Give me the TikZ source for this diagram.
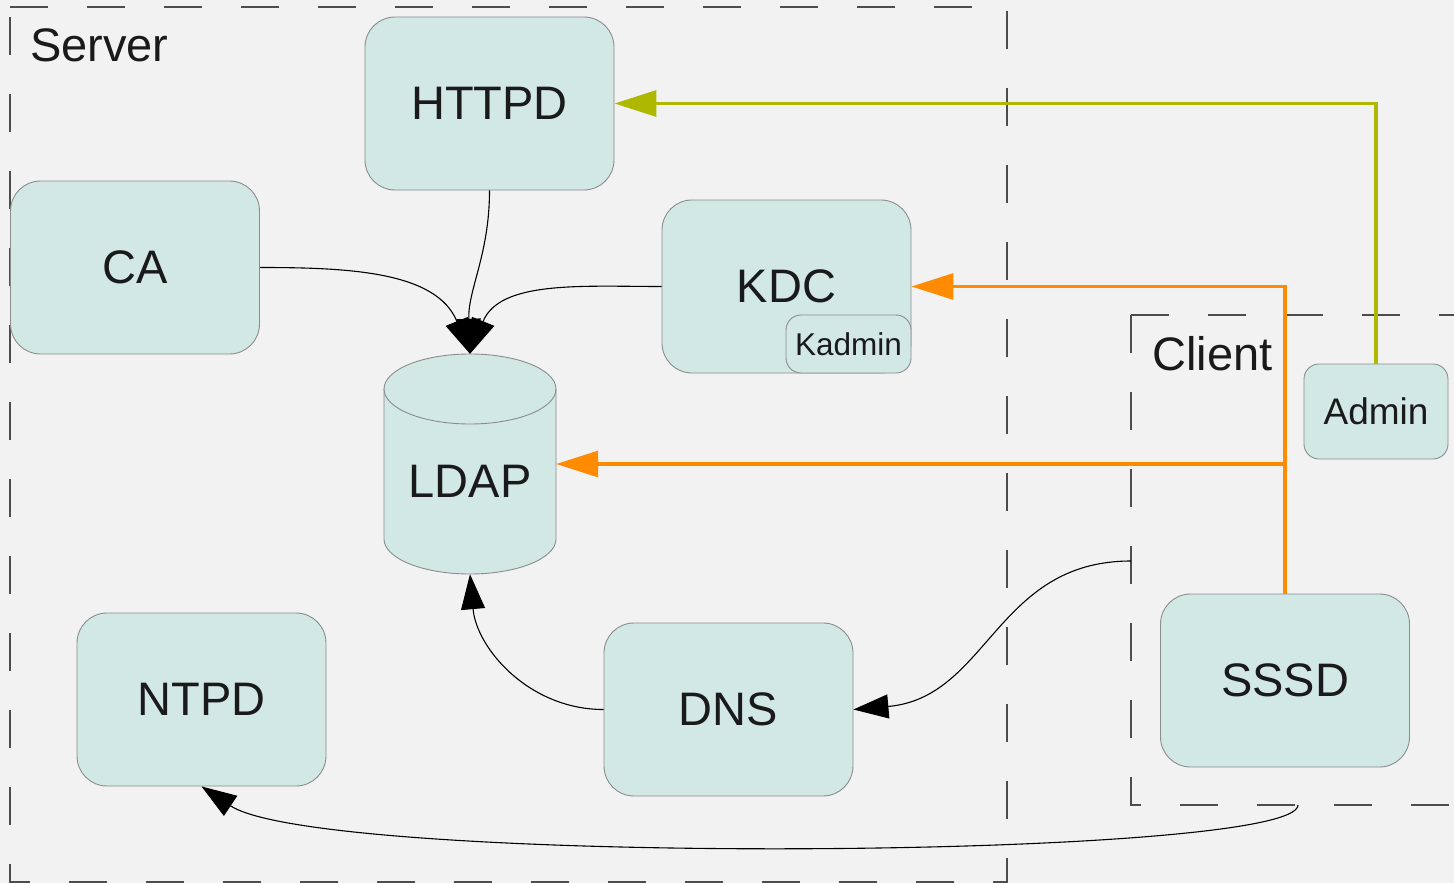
\documentclass[tikz,border=0pt]{standalone}
\usepackage{fontspec}
\setmainfont{Liberation Sans}
\usetikzlibrary{arrows.meta}
\definecolor{paper}{HTML}{F2F2F2}
\definecolor{boxfill}{HTML}{D1E8E5}
\definecolor{boxline}{HTML}{8C8C8C}
\definecolor{frameline}{HTML}{4D4D4D}
\definecolor{ink}{HTML}{1A1A1A}
\definecolor{sssdline}{HTML}{FF8C00}
\definecolor{adminline}{HTML}{AFB800}
\begin{document}
\begin{tikzpicture}[x=1pt,y=1pt,
	svc/.style={draw=boxline,fill=boxfill,line width=0.9pt,rounded corners=30pt,minimum width=249pt,minimum height=173pt,inner sep=0pt,text=ink,font=\fontsize{47}{56}\selectfont},
	frame/.style={draw=frameline,line width=1.5pt,dash pattern=on 38pt off 39pt},
	title/.style={anchor=base west,inner sep=0pt,text=ink,font=\fontsize{47}{56}\selectfont},
	link/.style={line width=1.1pt,-{Triangle[length=35pt,width=24pt]}},
	feed/.style={line width=3.2pt,-{Triangle[length=42pt,width=26pt]}}]
		\useasboundingbox (0,0) rectangle (1454,-883);
		\fill[paper] (0,0) rectangle (1454,-883);
		%=========== frames ===========================
		\draw[frame] (10,-7) -- (1007,-7) -- (1007,-882) -- (10,-882) -- cycle;
		\draw[frame] (1131,-315) -- (1454,-315);
		\draw[frame] (1131,-315) -- (1131,-805) -- (1454,-805);
		\node[title] (srvtitle) at (30,-62) {Server};
		\node[title] (clttitle) at (1152,-370) {Client};
		\coordinate (cltw) at (1131,-561);
		\coordinate (clts) at (1298,-805);
		%=========== server, from top to bottom ===========================
		\node[svc] (httpd) at (489.5,-103.5) {HTTPD};
		\node[svc] (ca) at (135,-267.5) {CA};
		\node[svc] (kdc) at (786.5,-286.5) {KDC};
		\node[svc,minimum width=125pt,minimum height=58pt,rounded corners=15pt,font=\fontsize{31.5}{38}\selectfont] (kadmin) at (848.5,-344) {Kadmin};
		\path[fill=boxfill,draw=boxline,line width=0.9pt] (384,-389) -- (384,-539)
			arc[start angle=180,end angle=360,x radius=86pt,y radius=35pt] -- (556,-389)
			arc[start angle=0,end angle=180,x radius=86pt,y radius=35pt] -- cycle;
		\draw[boxline,line width=0.9pt] (384,-389) arc[start angle=180,end angle=360,x radius=86pt,y radius=35pt];
		\node[minimum width=172pt,minimum height=220pt,inner sep=0pt,text=ink,font=\fontsize{47}{56}\selectfont,text height=67pt,text depth=0pt] (ldap) at (470,-464) {LDAP};
		\node[svc] (ntpd) at (201.5,-699.5) {NTPD};
		\node[svc] (dns) at (728.5,-709.5) {DNS};
		%=========== client ===========================
		\node[svc] (sssd) at (1285,-680.5) {SSSD};
		\node[svc,minimum width=144pt,minimum height=95pt,rounded corners=15pt,font=\fontsize{37}{44}\selectfont] (admin) at (1376,-411.5) {Admin};
		%=========== links ===========================
		\draw[link] (ca.east) to[out=0,in=112] (ldap.north);
		\draw[link] (httpd.south) to[out=-90,in=92] (ldap.north);
		\draw[link] (kdc.west) to[out=180,in=68] (ldap.north);
		\draw[link] (dns.west) to[out=180,in=-85] (ldap.south);
		\draw[link] (cltw) to[out=180,in=5,looseness=1.1] (dns.east);
		\draw[link] (clts) .. controls +(0,-55) and +(120,-80) .. (ntpd.south);
		\draw[feed,sssdline] (sssd.north) |- (kdc.east);
		\draw[feed,sssdline] (sssd.north) |- (ldap.east);
		\draw[feed,adminline] (admin.north) |- (httpd.east);
	\end{tikzpicture}
\end{document}
